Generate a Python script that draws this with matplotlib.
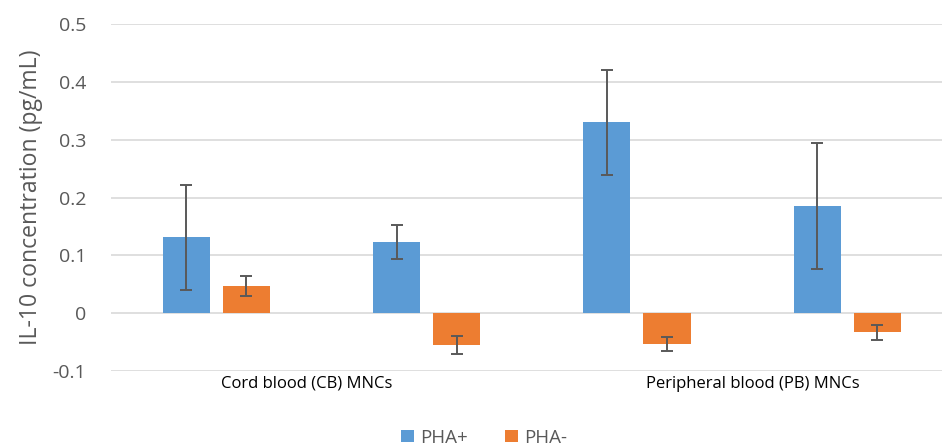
import numpy as np
from matplotlib import pyplot as plt

c_blue = "#5b9bd5"
c_orange = "#ed7d31"
c_grey = "#595959"

plt.rcParams["font.family"] = ["Open Sans", "DejaVu Sans"]

groups = ["", "", "", ""]
pha_plus = [0.131, 0.123, 0.330, 0.185]
pha_plus_err = [0.091, 0.030, 0.091, 0.109]
pha_minus = [0.047, -0.055, -0.054, -0.033]
pha_minus_err = [0.018, 0.016, 0.012, 0.013]
cat_labels = ["Cord blood (CB) MNCs", "Peripheral blood (PB) MNCs"]
yticks = [-0.1, 0, 0.1, 0.2, 0.3, 0.4, 0.5]
ytick_labels = ["-0.1", "0", "0.1", "0.2", "0.3", "0.4", "0.5"]

fig = plt.figure(figsize=(9.42, 4.48), dpi=100)
ax = fig.add_axes([0.118, 0.172, 0.893, 0.774])

x = np.arange(len(groups))
w = 0.224
off = 0.143
ekw = dict(ecolor=c_grey, elinewidth=1.4, capsize=4.5, capthick=1.4)
ax.bar(x - off, pha_plus, w, yerr=pha_plus_err, color=c_blue, label="PHA+",
       error_kw=ekw, zorder=3)
ax.bar(x + off, pha_minus, w, yerr=pha_minus_err, color=c_orange, label="PHA-",
       error_kw=ekw, zorder=3)

ax.set_xlim(-0.5, 3.5)
ax.set_ylim(-0.1, 0.5)
ax.set_yticks(yticks)
ax.set_yticklabels(ytick_labels)
ax.set_xticks([])
ax.tick_params(axis="y", length=0, pad=18, labelsize=14, labelcolor=c_grey)
ax.grid(axis="y", color="#d9d9d9", linewidth=1.2, zorder=0)
for s in ax.spines.values():
    s.set_visible(False)
ax.set_ylabel("IL-10 concentration (pg/mL)", fontsize=16.6, color=c_grey, labelpad=7)

# category labels under the axis
for pos, lab in zip([0.43, 2.55], cat_labels):
    ax.text(pos, -0.108, lab, ha="center", va="top", fontsize=12, color="black")

fig.legend(loc="lower center", bbox_to_anchor=(0.514, -0.035), ncol=2, frameon=False,
           fontsize=13.5, handlelength=0.65, handleheight=0.65, handletextpad=0.35,
           columnspacing=2.0, labelcolor=c_grey)

plt.savefig("out.png", dpi=100)
